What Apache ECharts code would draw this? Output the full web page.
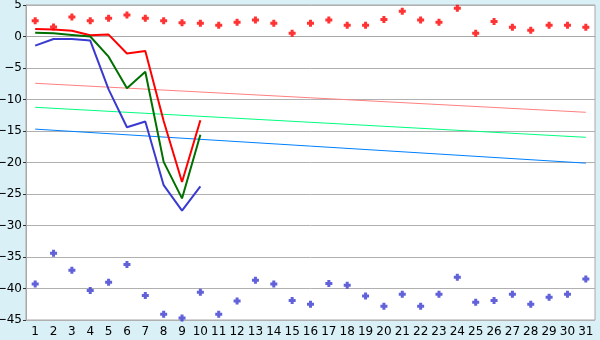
<!DOCTYPE html>
<html><head><meta charset="utf-8">
<script src="https://cdn.jsdelivr.net/npm/echarts@6/dist/echarts.min.js"></script>
<style>html,body{margin:0;padding:0;background:#d9f0f6;}#c{width:600px;height:340px;}</style>
</head><body><div id="c"></div>
<script>
const categories = Array.from({length:31},(_,i)=>String(i+1));
const redLine   = [1.2, 1.1, 0.9, 0.2, 0.3, -2.7, -2.3, -13.4, -23.1, -13.3];
const greenLine = [0.6, 0.5, 0.25, 0.0, -3.2, -8.2, -5.6, -19.9, -25.7, -15.6];
const blueLine  = [-1.45, -0.4, -0.4, -0.65, -8.4, -14.4, -13.5, -23.6, -27.65, -23.8];
const redDots = [2.5,1.5,3.1,2.5,2.9,3.4,2.9,2.5,2.2,2.1,1.8,2.25,2.6,2.1,0.5,2.1,2.6,1.8,1.8,2.7,4.0,2.6,2.25,4.5,0.5,2.4,1.45,1.0,1.8,1.8,1.45];
const blueDots = [-39.3,-34.4,-37.1,-40.3,-39.0,-36.2,-41.1,-44.1,-44.7,-40.6,-44.1,-42.0,-38.7,-39.3,-41.9,-42.5,-39.2,-39.5,-41.2,-42.8,-40.9,-42.8,-40.9,-38.2,-42.2,-41.9,-40.9,-42.5,-41.4,-40.9,-38.5];
const pinkTrend  = [-7.43, -12.03];
const greenTrend = [-11.24, -16.0];
const blueTrend  = [-14.7, -20.1];
const yTicks = {min:-45, max:5, interval:5};

const plus = 'path://M2,0h3v2h2v3h-2v2h-3v-2h-2v-3h2z';
function trend(v,color){return {type:'line',data:[['1',v[0]],['31',v[1]]],symbol:'none',lineStyle:{color:color,width:1},z:1,animation:false};}
function main(v,color){return {type:'line',data:v,symbol:'none',lineStyle:{color:color,width:2},z:3,animation:false};}
const chart = echarts.init(document.getElementById('c'));
chart.setOption({
  animation:false,
  backgroundColor:'#d9f0f6',
  grid:{left:26,top:5,right:5,bottom:20,outerBoundsMode:'none',containLabel:false,show:true,backgroundColor:'#ffffff',borderColor:'#a8a8a8',borderWidth:1},
  xAxis:{type:'category',data:categories,boundaryGap:true,
    axisLine:{lineStyle:{color:'#a8a8a8'}},
    axisTick:{alignWithLabel:true,length:5,lineStyle:{color:'#333'}},
    axisLabel:{color:'#000',fontFamily:'DejaVu Sans',fontSize:12,margin:6,interval:0},
    splitLine:{show:false}},
  yAxis:{type:'value',min:yTicks.min,max:yTicks.max,interval:yTicks.interval,
    axisLine:{show:true,lineStyle:{color:'#a8a8a8'}},
    axisTick:{show:true,length:3,lineStyle:{color:'#333'}},
    axisLabel:{color:'#000',fontFamily:'DejaVu Sans',fontSize:12,margin:4,formatter:v=>String(v).replace('-','\u2212')},
    splitLine:{lineStyle:{color:'#b0b0b0',width:1}}},
  series:[
    trend(pinkTrend,'#ff8080'),
    trend(greenTrend,'#00ff80'),
    trend(blueTrend,'#0080ff'),
    main(redLine,'#ff0000'),
    main(greenLine,'#007000'),
    main(blueLine,'#3a3ad0'),
    {type:'scatter',data:redDots,symbol:plus,symbolSize:7,itemStyle:{color:'#ff0000'},z:4},
    {type:'scatter',data:blueDots,symbol:plus,symbolSize:7,itemStyle:{color:'#3a3ad0'},z:4}
  ]
});
</script></body></html>
